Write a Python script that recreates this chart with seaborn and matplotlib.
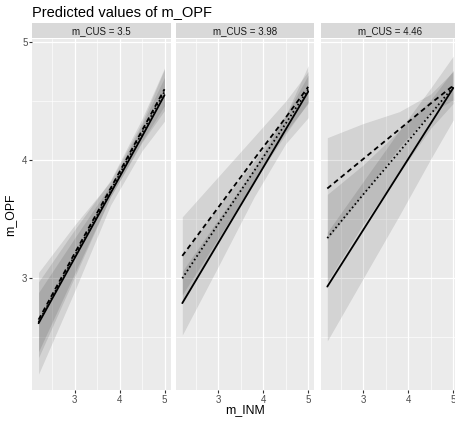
import matplotlib
matplotlib.use("Agg")
import matplotlib.pyplot as plt
from matplotlib.ticker import MultipleLocator
import pandas as pd
import seaborn as sns

sns.set_style("darkgrid", {"axes.facecolor": "#EBEBEB", "grid.color": "white"})
plt.rcParams['font.family'] = ['Liberation Sans', 'DejaVu Sans']

# x values where predictions were read
x_vals = [2.2, 3.0, 3.8, 4.5, 5.0]
panels = ["m_CUS = 3.5", "m_CUS = 3.98", "m_CUS = 4.46"]
groups = ["low", "mid", "high"]  # solid, dashed, dotted

# m_CUS = 3.5
p1_low = [2.62, 3.17, 3.72, 4.20, 4.55]
p1_mid = [2.65, 3.21, 3.76, 4.25, 4.60]
p1_high = [2.63, 3.19, 3.74, 4.23, 4.58]
p1_low_ci = [0.43, 0.28, 0.10, 0.12, 0.22]
p1_mid_ci = [0.32, 0.20, 0.07, 0.10, 0.18]
p1_high_ci = [0.25, 0.15, 0.05, 0.07, 0.12]

# m_CUS = 3.98
p2_low = [2.79, 3.30, 3.81, 4.26, 4.58]
p2_mid = [3.19, 3.60, 4.01, 4.36, 4.62]
p2_high = [3.00, 3.46, 3.91, 4.31, 4.60]
p2_low_ci = [0.27, 0.20, 0.12, 0.12, 0.22]
p2_mid_ci = [0.33, 0.26, 0.19, 0.14, 0.13]
p2_high_ci = [0.20, 0.14, 0.08, 0.07, 0.12]

# m_CUS = 4.46
p3_low = [2.93, 3.41, 3.89, 4.31, 4.61]
p3_mid = [3.76, 4.01, 4.26, 4.48, 4.63]
p3_high = [3.34, 3.71, 4.07, 4.39, 4.62]
p3_low_ci = [0.46, 0.41, 0.36, 0.30, 0.27]
p3_mid_ci = [0.43, 0.30, 0.15, 0.08, 0.12]
p3_high_ci = [0.37, 0.25, 0.18, 0.12, 0.14]

preds = [[p1_low, p1_mid, p1_high], [p2_low, p2_mid, p2_high], [p3_low, p3_mid, p3_high]]
cis = [[p1_low_ci, p1_mid_ci, p1_high_ci], [p2_low_ci, p2_mid_ci, p2_high_ci],
       [p3_low_ci, p3_mid_ci, p3_high_ci]]

rows = []
for i, panel in enumerate(panels):
    for j, g in enumerate(groups):
        for k, x in enumerate(x_vals):
            rows.append({"panel": panel, "group": g, "x": x,
                         "pred": preds[i][j][k], "ci": cis[i][j][k]})
df = pd.DataFrame(rows)
df["lo"] = df["pred"] - df["ci"]
df["hi"] = df["pred"] + df["ci"]

W, H = 456, 423
fig = plt.figure(figsize=(W / 100, H / 100), dpi=100)

lefts = [32.3, 176.0, 321.0]
pw = 138.5
top, bottom = 39.0, 390.0
dashes = {"low": "", "mid": (2.8, 2.0), "high": (0.9, 1.5)}

for i, panel in enumerate(panels):
    ax = fig.add_axes([lefts[i] / W, 1 - bottom / H, pw / W, (bottom - top) / H])
    sub = df[df["panel"] == panel]
    for g in groups:
        s = sub[sub["group"] == g]
        ax.fill_between(s["x"], s["lo"], s["hi"], color="black", alpha=0.1, lw=0)
    sns.lineplot(data=sub, x="x", y="pred", style="group", dashes=dashes,
                 color="black", lw=1.3, legend=False, errorbar=None, ax=ax)
    ax.set_xlim(2.06, 5.14)
    ax.set_ylim(2.055, 5.025)
    ax.xaxis.set_major_locator(MultipleLocator(1))
    ax.xaxis.set_minor_locator(MultipleLocator(0.5))
    ax.yaxis.set_major_locator(MultipleLocator(1))
    ax.yaxis.set_minor_locator(MultipleLocator(0.5))
    ax.grid(which="major", color="white", lw=0.9)
    ax.grid(which="minor", color="white", lw=0.45)
    for sp in ax.spines.values():
        sp.set_visible(False)
    ax.tick_params(which="major", length=2.0, width=0.8, color="#333333",
                   labelsize=7, labelcolor="#4D4D4D", pad=1.5)
    ax.tick_params(which="minor", length=0)
    ax.tick_params(axis="x", bottom=True)
    if i == 0:
        ax.tick_params(axis="y", left=True)
    else:
        ax.tick_params(axis="y", left=False, labelleft=False)
    ax.set_xlabel("")
    ax.set_ylabel("")

    # facet strip
    sax = fig.add_axes([lefts[i] / W, 1 - 38.5 / H, pw / W, 15.5 / H])
    sax.set_facecolor("#D9D9D9")
    sax.set_xticks([])
    sax.set_yticks([])
    sax.grid(False)
    for sp in sax.spines.values():
        sp.set_visible(False)
    sax.text(0.5, 0.5, panel, ha="center", va="center", fontsize=7,
             color="#1A1A1A", transform=sax.transAxes)

fig.text(32 / W, 1 - 16 / H, "Predicted values of m_OPF", fontsize=10.5,
         ha="left", va="baseline", color="black")
fig.text(10 / W, 1 - 215 / H, "m_OPF", rotation=90, fontsize=8.8,
         ha="center", va="center", color="black")
fig.text(245 / W, 1 - 410 / H, "m_INM", fontsize=8.8, ha="center",
         va="center", color="black")

fig.savefig("out.png", dpi=100)
